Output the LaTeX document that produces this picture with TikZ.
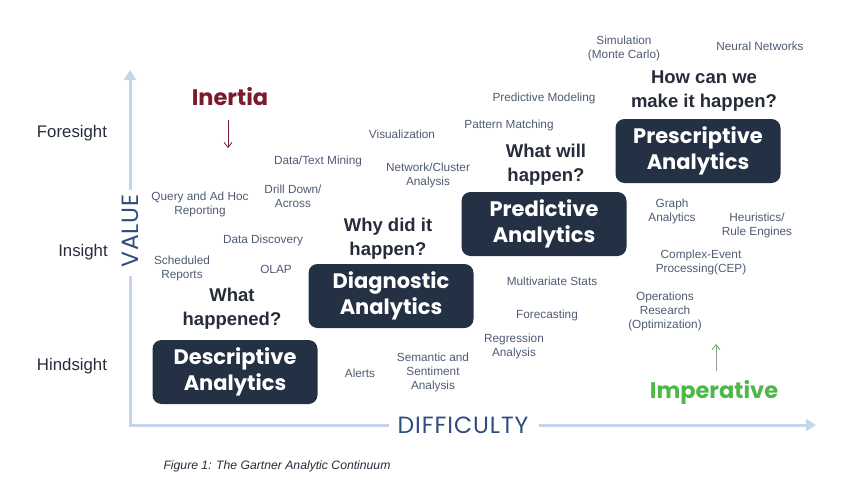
\documentclass[tikz,border=0pt]{standalone}
\usepackage{fontspec}
\setmainfont{Liberation Sans}
\newfontfamily\pop{Poppins}
\newfontfamily\popw{Poppins}[LetterSpace=4]
\usetikzlibrary{arrows.meta}
\definecolor{navy}{HTML}{243044}
\definecolor{axisc}{HTML}{C5D6EA}
\definecolor{axtext}{HTML}{2E4C7E}
\definecolor{lbl}{HTML}{4F5B73}
\definecolor{dark}{HTML}{262C3A}
\definecolor{inert}{HTML}{7A1A2E}
\definecolor{imper}{HTML}{4DB848}
\tikzset{
  box/.style={fill=navy, rounded corners=9pt, minimum width=165pt, minimum height=64pt, text=white, align=center, font=\pop\bfseries\fontsize{21}{25.5}\selectfont},
  quest/.style={text=dark, align=center, font=\bfseries\fontsize{18.5}{24}\selectfont},
  small/.style={text=lbl, align=center, font=\fontsize{11.8}{14}\selectfont},
  side/.style={text=dark, font=\fontsize{16.8}{18}\selectfont},
  axis/.style={draw=axisc, line width=3pt},
  axlbl/.style={text=axtext, font=\popw\fontsize{23.5}{24}\selectfont, inner sep=0pt},
}
\begin{document}
\begin{tikzpicture}[x=1pt,y=-1pt]
\useasboundingbox (0,0) rectangle (852,482);
% axes
\coordinate (corner) at (130,425);
\coordinate (ytip) at (130,70);
\coordinate (xtip) at (816,425);
\node[axlbl, rotate=90] (value) at (130,231) {VALUE};
\node[axlbl] (diff) at (463,425) {DIFFICULTY};
\draw[axis, -{Triangle[length=10pt,width=12pt]}] (value.east) ++(0,-4) -- (ytip);
\draw[axis] (value.west) ++(0,8) |- ([xshift=-8pt]diff.west);
\draw[axis, -{Triangle[length=10pt,width=12pt]}] ([xshift=10pt]diff.east) -- (xtip);
% side labels
\node[side] (fore) at (72,133) {Foresight};
\node[side] (ins) at (83,252) {Insight};
\node[side] (hind) at (72,366) {Hindsight};
% boxes
\node[box] (desc) at (235,372) {Descriptive\\Analytics};
\node[box] (diag) at (391,296) {Diagnostic\\Analytics};
\node[box] (pred) at (544,224) {Predictive\\Analytics};
\node[box] (pres) at (698,151) {Prescriptive\\Analytics};
% questions
\node[quest] (q1) at (232,309) {What\\happened?};
\node[quest] (q2) at (388,239) {Why did it\\happen?};
\node[quest] (q3) at (546,165) {What will\\happen?};
\node[quest] (q4) at (704,91) {How can we\\make it happen?};
% inertia / imperative
\node[text=inert, font=\pop\bfseries\fontsize{22.5}{24}\selectfont] (inertia) at (230,97) {Inertia};
\coordinate (ia) at (228,120);
\coordinate (ib) at (228,148);
\draw[inert, line width=0.8pt, -{Straight Barb[length=5pt,width=8pt]}] (ia) -- (ib);
\node[text=imper, font=\pop\bfseries\fontsize{22.5}{24}\selectfont] (imp) at (714,392) {Imperative};
\coordinate (ma) at (716,371);
\coordinate (mb) at (716,344);
\draw[gray!80, line width=0.8pt, -{Straight Barb[length=5pt,width=8pt,color=imper]}] (ma) -- (mb);
% small labels
\node[small] (l1) at (624,48) {Simulation\\(Monte Carlo)};
\node[small] (l2) at (760,46) {Neural Networks};
\node[small] (l3) at (544,98) {Predictive Modeling};
\node[small] (l4) at (509,125) {Pattern Matching};
\node[small] (l5) at (402,134) {Visualization};
\node[small] (l6) at (318,161) {Data/Text Mining};
\node[small] (l7) at (428,175) {Network/Cluster\\Analysis};
\node[small] (l8) at (200,204) {Query and Ad Hoc\\Reporting};
\node[small] (l9) at (293,196) {Drill Down/\\Across};
\node[small] (l10) at (263,240) {Data Discovery};
\node[small] (l11) at (182,268) {Scheduled\\Reports};
\node[small] (l12) at (276,269) {OLAP};
\node[small] (l13) at (672,211) {Graph\\Analytics};
\node[small] (l14) at (757,225) {Heuristics/\\Rule Engines};
\node[small] (l15) at (701,262) {Complex-Event\\Processing(CEP)};
\node[small] (l16) at (552,281) {Multivariate Stats};
\node[small] (l17) at (547,315) {Forecasting};
\node[small] (l18) at (665,311) {Operations\\Research\\(Optimization)};
\node[small] (l19) at (514,346) {Regression\\Analysis};
\node[small] (l20) at (360,373) {Alerts};
\node[small] (l21) at (433,372) {Semantic and\\Sentiment\\Analysis};
% caption
\node[text=dark, font=\itshape\fontsize{12.2}{14}\selectfont] (cap) at (277,466) {Figure 1: The Gartner Analytic Continuum};
\end{tikzpicture}
\end{document}
